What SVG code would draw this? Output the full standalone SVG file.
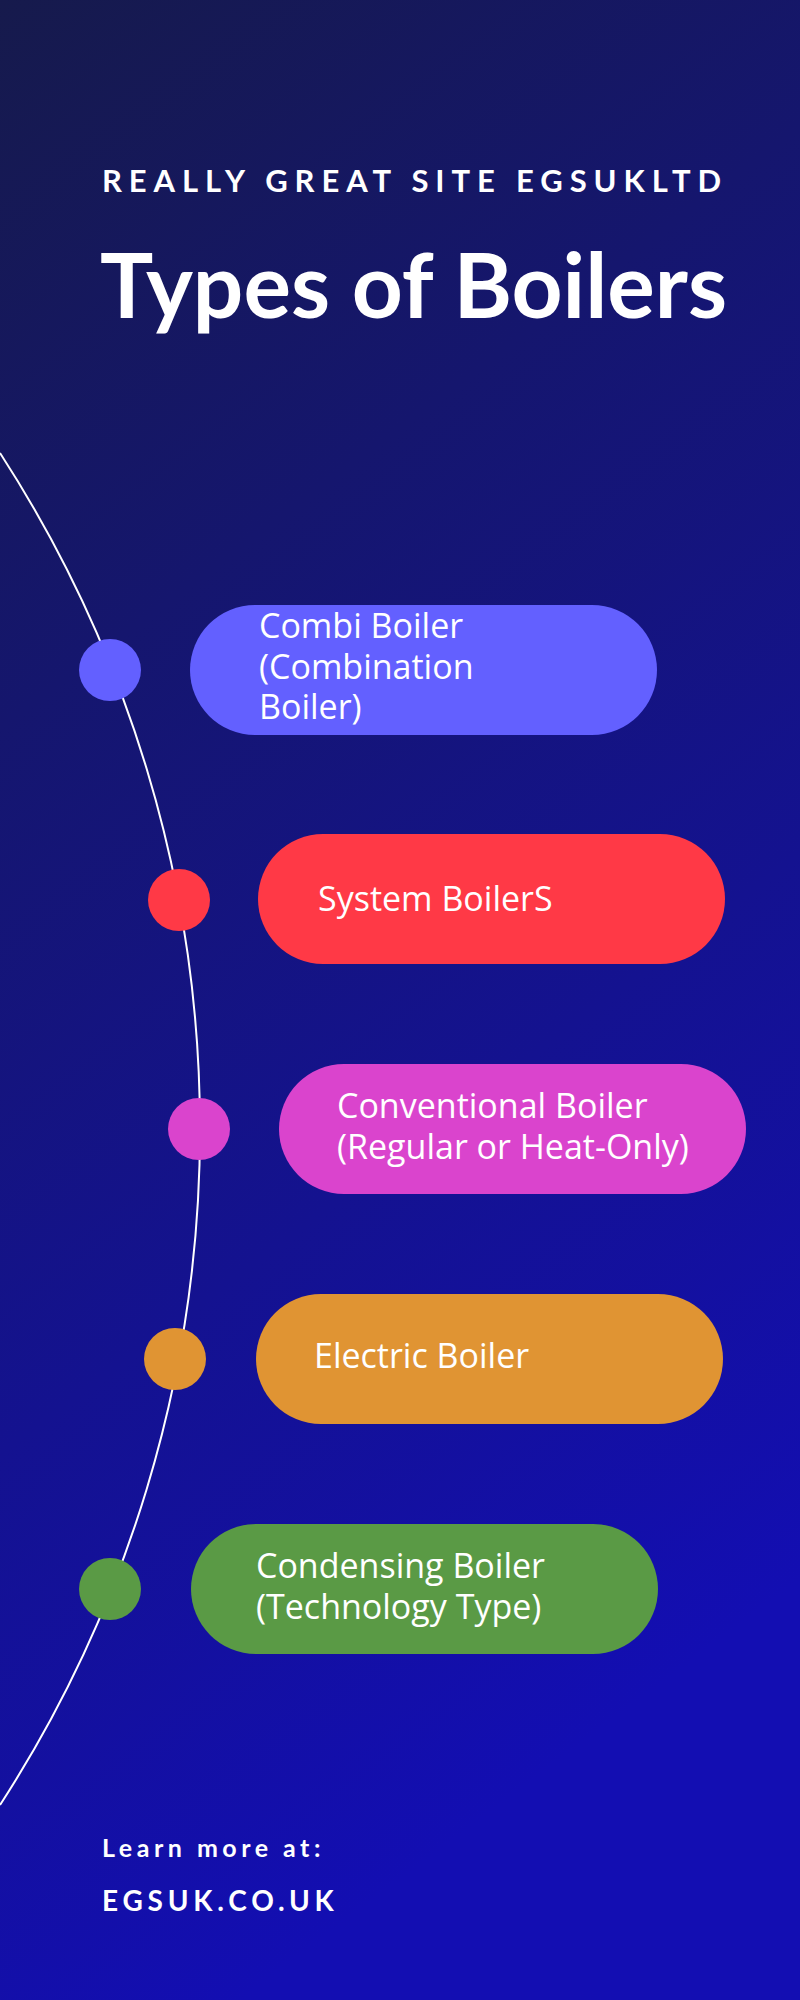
<svg xmlns="http://www.w3.org/2000/svg" width="800" height="2000" viewBox="0 0 800 2000">
<defs>
<linearGradient id="bg" x1="0" y1="0" x2="0.3" y2="1">
<stop offset="0" stop-color="#161a4c"/>
<stop offset="1" stop-color="#130eb2"/>
</linearGradient>
<style>
.h{font-family:"Lato","Liberation Sans",sans-serif;fill:#fff}
.t{font-family:"Open Sans","Liberation Sans",sans-serif;fill:#fff;font-size:34px}
</style>
</defs>
<rect width="800" height="2000" fill="url(#bg)"/>
<text class="h" x="102" y="192" font-size="31" font-weight="bold" letter-spacing="6.9">REALLY GREAT SITE EGSUKLTD</text>
<text class="h" x="100" y="318" font-size="89" font-weight="bold">Types of Boilers</text>
<g id="connectors">
<path d="M0 453 A1242.4 1242.4 0 0 1 0 1805" fill="none" stroke="#fff" stroke-width="2"/>
</g>
<g id="n1"><circle cx="110" cy="670" r="31" fill="#6360ff"/><rect x="190" y="605" width="467" height="130" rx="65" fill="#6360ff"/>
<text class="t" x="259" y="638">Combi Boiler</text><text class="t" x="259" y="679">(Combination</text><text class="t" x="259" y="719">Boiler)</text></g>
<g id="n2"><circle cx="179" cy="900" r="31" fill="#ff3946"/><rect x="258" y="834" width="467" height="130" rx="65" fill="#ff3946"/>
<text class="t" x="318" y="911">System BoilerS</text></g>
<g id="n3"><circle cx="199" cy="1129" r="31" fill="#da44cd"/><rect x="279" y="1064" width="467" height="130" rx="65" fill="#da44cd"/>
<text class="t" x="337" y="1118">Conventional Boiler</text><text class="t" x="337" y="1159">(Regular or Heat-Only)</text></g>
<g id="n4"><circle cx="175" cy="1359" r="31" fill="#e09433"/><rect x="256" y="1294" width="467" height="130" rx="65" fill="#e09433"/>
<text class="t" x="314" y="1368">Electric Boiler</text></g>
<g id="n5"><circle cx="110" cy="1589" r="31" fill="#5a9a45"/><rect x="191" y="1524" width="467" height="130" rx="65" fill="#5a9a45"/>
<text class="t" x="256" y="1578">Condensing Boiler</text><text class="t" x="256" y="1619">(Technology Type)</text></g>
<text class="h" x="102" y="1857" font-size="25" font-weight="bold" letter-spacing="4.5">Learn more at:</text>
<text class="h" x="102" y="1911" font-size="28" font-weight="bold" letter-spacing="4.8">EGSUK.CO.UK</text>
</svg>
